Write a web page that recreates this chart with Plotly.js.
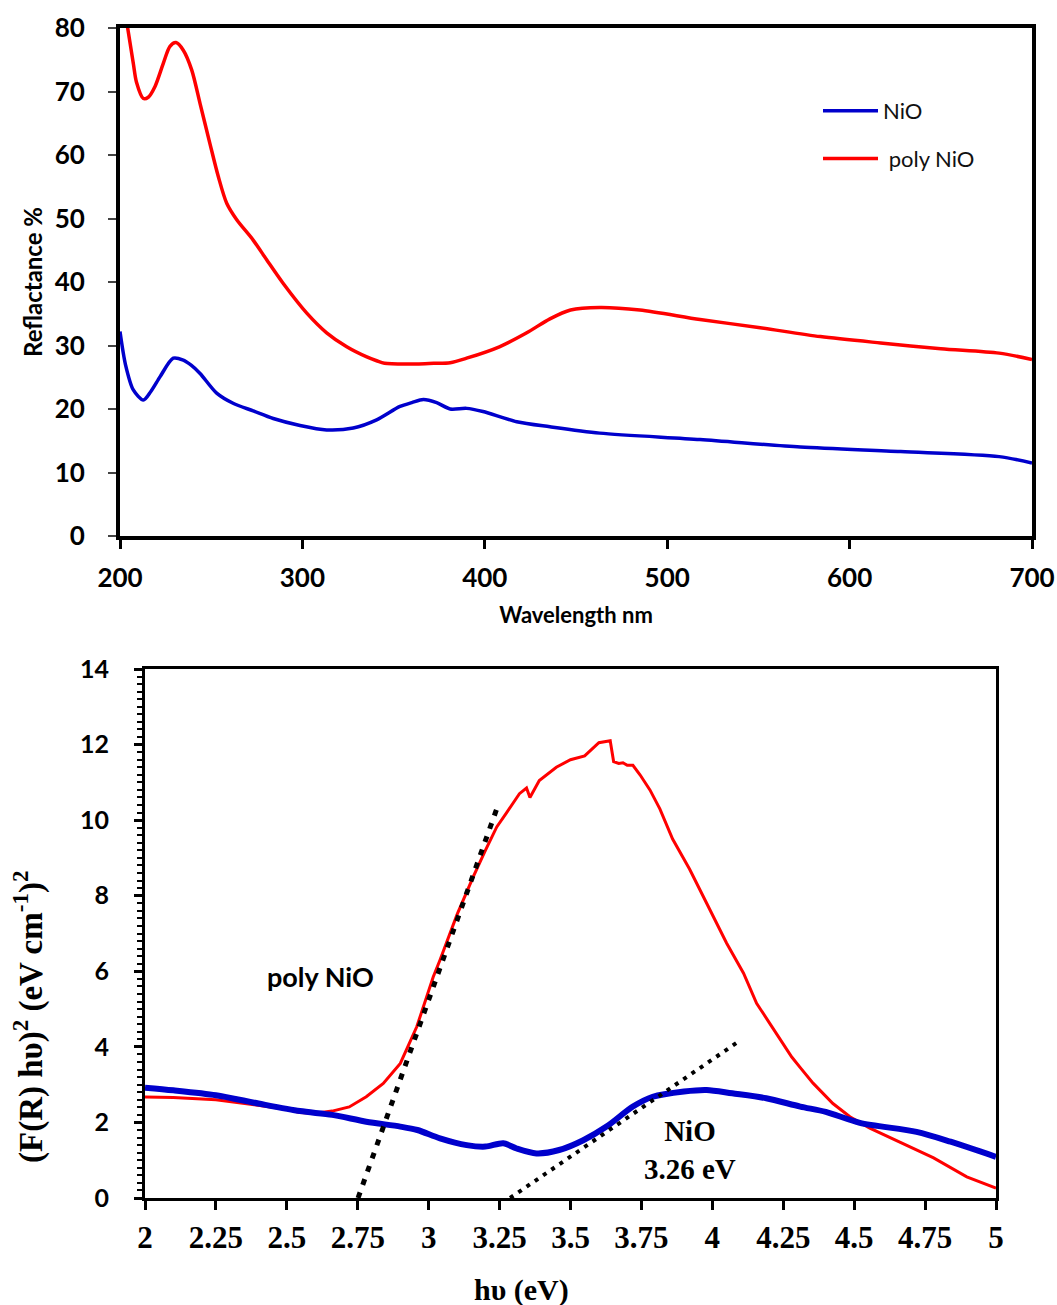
<!DOCTYPE html>
<html>
<head>
<meta charset="utf-8">
<script src="https://cdn.plot.ly/plotly-3.0.1.min.js"></script>
<style>
  html, body { margin: 0; padding: 0; background: #ffffff; }
  #chart { width: 1057px; height: 1305px; }
</style>
</head>
<body>
<div id="chart"></div>
<script>
// ---------- Top panel: reflectance vs wavelength ----------
const wlPoly = [202, 207.3, 209, 212.8, 215.5, 219.2, 223.7, 227.4, 230.7, 234.7, 239.3, 243.9, 249.3, 253.9, 258.5, 264, 273, 280.4, 289.4, 302.4, 313.3, 324.3, 335.3, 340.7, 345, 362.7, 372, 381, 390, 408, 423, 435.7, 447, 463, 485, 518, 551, 584, 617, 650, 682, 700];
const refPoly = [84, 74.4, 71.5, 68.9, 69.1, 70.8, 74.4, 77.1, 77.7, 76.5, 73.4, 68.1, 61.8, 56.6, 52.4, 49.8, 46.6, 43.5, 39.8, 35.1, 32.0, 29.8, 28.2, 27.6, 27.2, 27.1, 27.2, 27.3, 28.0, 29.8, 32.0, 34.2, 35.6, 36.0, 35.6, 34.1, 32.8, 31.4, 30.4, 29.5, 28.8, 27.8];

const wlNiO = [200, 203, 207.3, 212.8, 217, 222, 229.2, 234.7, 239, 243.9, 253, 262, 273, 284, 298.7, 313.3, 327.9, 340.7, 353.5, 360, 366.3, 373.6, 381, 390, 399, 417.5, 435.7, 463, 518, 573, 628, 682, 700];
const refNiO = [32.2, 27, 23, 21.4, 22.8, 25.1, 28, 27.7, 26.9, 25.6, 22.5, 20.9, 19.7, 18.5, 17.4, 16.7, 17.0, 18.3, 20.4, 21.0, 21.5, 21.0, 20.0, 20.1, 19.6, 18.0, 17.2, 16.2, 15.2, 14.0, 13.3, 12.5, 11.5];

// ---------- Bottom panel: Kubelka-Munk (F(R) hv)^2 vs hv ----------
const evPoly = [2.0, 2.1, 2.25, 2.4, 2.5, 2.546, 2.6, 2.66, 2.72, 2.78, 2.84, 2.9, 2.958, 3.016, 3.04, 3.1, 3.157, 3.2, 3.24, 3.275, 3.32, 3.345, 3.357, 3.39, 3.45, 3.5, 3.55, 3.6, 3.64, 3.652, 3.67, 3.685, 3.7, 3.72, 3.745, 3.78, 3.815, 3.86, 3.92, 3.98, 4.05, 4.11, 4.156, 4.2, 4.28, 4.31, 4.355, 4.425, 4.485, 4.555, 4.66, 4.78, 4.897, 5.0];
const kmPoly = [2.67, 2.66, 2.6, 2.45, 2.35, 2.26, 2.24, 2.3, 2.41, 2.68, 3.03, 3.56, 4.53, 5.85, 6.3, 7.5, 8.5, 9.2, 9.82, 10.2, 10.7, 10.85, 10.6, 11.05, 11.4, 11.6, 11.7, 12.05, 12.1, 11.55, 11.5, 11.52, 11.45, 11.45, 11.2, 10.8, 10.3, 9.5, 8.7, 7.8, 6.75, 5.95, 5.15, 4.65, 3.73, 3.45, 3.04, 2.5, 2.15, 1.85, 1.48, 1.06, 0.56, 0.26];

const evNiO = [2.0, 2.1, 2.25, 2.4, 2.546, 2.66, 2.78, 2.9, 2.96, 3.04, 3.134, 3.2, 3.263, 3.31, 3.38, 3.46, 3.545, 3.627, 3.72, 3.79, 3.9, 3.98, 4.07, 4.19, 4.31, 4.4, 4.52, 4.72, 4.84, 5.0];
const kmNiO = [2.92, 2.85, 2.72, 2.5, 2.3, 2.2, 2.02, 1.89, 1.8, 1.58, 1.4, 1.36, 1.45, 1.31, 1.18, 1.27, 1.53, 1.89, 2.42, 2.68, 2.82, 2.86, 2.77, 2.64, 2.42, 2.28, 1.99, 1.75, 1.49, 1.09];

// Tauc-type tangent lines (band-gap extrapolation)
const tanPolyX = [2.751, 3.241];
const tanPolyY = [0, 10.32];
const tanNiOX = [3.287, 4.10];
const tanNiOY = [0, 4.18];

// Labels
const legendNames = ['NiO', ' poly NiO'];
const topXTitle = 'Wavelength nm';
const topYTitle = 'Reflactance %';
const botXTitle = 'hυ (eV)';
const botYTitle = '(F(R) hυ)<sup>2</sup> (eV cm<sup>-1</sup>)<sup>2</sup>';
const polyLabel = 'poly NiO';
const nioLabel = 'NiO<br>3.26 eV';

const W = 1057, H = 1305;
const px = v => v / W;
const py = v => 1 - v / H;

const RED = '#ff0000';
const BLUE = '#0000cc';

const traces = [
  { x: wlNiO, y: refNiO, xaxis: 'x', yaxis: 'y', type: 'scatter', mode: 'lines',
    name: legendNames[0], legendgroup: 'a',
    line: { color: BLUE, width: 3.5, shape: 'spline', smoothing: 0.8 } },
  { x: wlPoly, y: refPoly, xaxis: 'x', yaxis: 'y', type: 'scatter', mode: 'lines',
    name: legendNames[1], legendgroup: 'b',
    line: { color: RED, width: 3.5, shape: 'spline', smoothing: 0.8 } },
  { x: evPoly, y: kmPoly, xaxis: 'x2', yaxis: 'y2', type: 'scatter', mode: 'lines',
    showlegend: false, line: { color: RED, width: 3 } },
  { x: evNiO, y: kmNiO, xaxis: 'x2', yaxis: 'y2', type: 'scatter', mode: 'lines',
    showlegend: false, line: { color: BLUE, width: 6, shape: 'spline', smoothing: 0.8 } },
  { x: tanPolyX, y: tanPolyY, xaxis: 'x2', yaxis: 'y2', type: 'scatter', mode: 'lines',
    showlegend: false, line: { color: '#000000', width: 5, dash: '6px,8px' } },
  { x: tanNiOX, y: tanNiOY, xaxis: 'x2', yaxis: 'y2', type: 'scatter', mode: 'lines',
    showlegend: false, line: { color: '#000000', width: 4, dash: '4px,6px' } }
];

const sansBold = 'Lato, "Open Sans", sans-serif';
const serif = '"Liberation Serif", "DejaVu Serif", serif';

const layout = {
  width: W, height: H,
  margin: { l: 0, r: 0, t: 0, b: 0 },
  paper_bgcolor: '#ffffff',
  plot_bgcolor: '#ffffff',
  showlegend: true,
  legend: {
    x: px(818), y: py(90), xanchor: 'left', yanchor: 'top',
    font: { family: 'Lato, sans-serif', size: 22, color: '#111111' },
    bgcolor: 'rgba(0,0,0,0)', borderwidth: 0,
    traceorder: 'grouped', tracegroupgap: 16, itemwidth: 55
  },
  xaxis: {
    domain: [px(120), px(1032)], anchor: 'y',
    range: [200, 700], dtick: 100, tick0: 200,
    showgrid: false, zeroline: false,
    showline: true, linecolor: '#000000', linewidth: 4, mirror: true,
    ticks: 'outside', ticklen: 9, tickwidth: 3, tickcolor: '#000000',
    ticklabelstandoff: 7,
    tickfont: { family: sansBold, size: 26, color: '#000000', weight: 'bold' },
    title: { text: topXTitle, standoff: 16,
             font: { family: sansBold, size: 22, color: '#000000', weight: 'bold' } }
  },
  yaxis: {
    domain: [py(536), py(28)], anchor: 'x',
    range: [0, 80], dtick: 10,
    showgrid: false, zeroline: false,
    showline: true, linecolor: '#000000', linewidth: 4, mirror: true,
    ticks: 'outside', ticklen: 8, tickwidth: 2, tickcolor: '#444444',
    ticklabelstandoff: 18,
    tickfont: { family: sansBold, size: 26, color: '#000000', weight: 'bold' },
    title: { text: topYTitle, standoff: 6,
             font: { family: sansBold, size: 24, color: '#000000', weight: 'bold' } }
  },
  xaxis2: {
    domain: [px(145), px(996)], anchor: 'y2',
    range: [2, 5], dtick: 0.25, tick0: 2,
    showgrid: false, zeroline: false,
    showline: true, linecolor: '#000000', linewidth: 3, mirror: true,
    ticks: 'outside', ticklen: 9, tickwidth: 3, tickcolor: '#000000',
    ticklabelstandoff: 1,
    tickfont: { family: serif, size: 31, color: '#000000', weight: 'bold' }
  },
  yaxis2: {
    domain: [py(1198), py(669)], anchor: 'x2',
    range: [0, 14], dtick: 2,
    showgrid: false, zeroline: false,
    showline: true, linecolor: '#000000', linewidth: 3, mirror: true,
    ticks: 'outside', ticklen: 8, tickwidth: 3, tickcolor: '#000000',
    minor: { dtick: 0.2, ticks: 'outside', ticklen: 5, tickwidth: 2, tickcolor: '#000000', showgrid: false },
    ticklabelstandoff: 20,
    tickfont: { family: sansBold, size: 25, color: '#000000', weight: 'bold' }
  },
  annotations: [
    { xref: 'x2', yref: 'y2', x: 2.617, y: 5.85, text: polyLabel, showarrow: false,
      font: { family: sansBold, size: 27, color: '#000000', weight: 'bold' } },
    { xref: 'x2', yref: 'y2', x: 3.92, y: 1.27, text: nioLabel, showarrow: false,
      font: { family: serif, size: 29, color: '#000000', weight: 'bold' } },
    { xref: 'paper', yref: 'paper', x: px(521), y: py(1290), xanchor: 'center', yanchor: 'middle',
      text: botXTitle, showarrow: false,
      font: { family: serif, size: 30, color: '#000000', weight: 'bold' } },
    { xref: 'paper', yref: 'paper', x: px(28), y: py(1017), xanchor: 'center', yanchor: 'middle',
      text: botYTitle, showarrow: false, textangle: -90,
      font: { family: serif, size: 33, color: '#000000', weight: 'bold' } }
  ]
};

Plotly.newPlot('chart', traces, layout, { staticPlot: true, displayModeBar: false });
</script>
</body>
</html>
